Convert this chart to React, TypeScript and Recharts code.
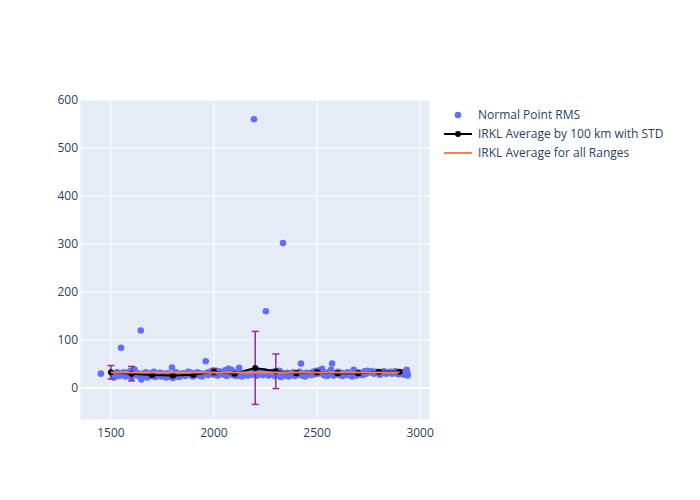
import React from "react";
import {
  ComposedChart,
  Scatter,
  Line,
  XAxis,
  YAxis,
  CartesianGrid,
  ErrorBar,
  ReferenceLine,
} from "recharts";

// [range km, rms]
const normalPoints: [number, number][] = [
  [1451, 30], [1508, 27], [1515, 22], [1522, 30], [1530, 33], [1538, 25], [1545, 31], [1549, 84],
  [1556, 28], [1562, 33], [1570, 24], [1578, 30], [1585, 26], [1592, 35], [1600, 22], [1607, 29],
  [1615, 38], [1622, 27], [1630, 31], [1638, 24], [1645, 120], [1648, 18],
  [1655, 30], [1662, 26], [1670, 33], [1678, 22], [1685, 28], [1693, 31], [1700, 25], [1708, 34],
  [1715, 23], [1722, 29], [1730, 27], [1738, 32], [1745, 24],
  [1752, 30], [1760, 26], [1768, 22], [1775, 31], [1783, 27], [1790, 24], [1796, 43], [1800, 21],
  [1808, 28], [1815, 33], [1822, 25], [1830, 23], [1838, 30], [1845, 27],
  [1852, 31], [1860, 25], [1868, 29], [1875, 34], [1882, 27], [1890, 32], [1898, 24], [1905, 30],
  [1912, 28], [1920, 33], [1928, 26], [1935, 31], [1942, 24], [1950, 29], [1960, 56], [1965, 32],
  [1972, 27], [1980, 34], [1988, 30], [1995, 36], [2002, 28], [2010, 32], [2018, 26], [2025, 35],
  [2032, 30], [2040, 33], [2048, 28], [2055, 37], [2062, 25], [2070, 40], [2078, 31], [2085, 38],
  [2092, 27], [2100, 33], [2108, 25], [2115, 30], [2122, 42], [2128, 28], [2135, 24], [2142, 31],
  [2150, 27], [2158, 33], [2165, 26], [2172, 30], [2180, 35],
  [2188, 28], [2194, 560], [2200, 32], [2208, 26], [2215, 34], [2222, 29], [2230, 31], [2238, 27],
  [2245, 35], [2252, 160], [2258, 30], [2265, 26], [2272, 33],
  [2280, 29], [2288, 34], [2295, 25], [2302, 31], [2310, 27], [2318, 36], [2325, 23], [2335, 302],
  [2340, 30], [2348, 26], [2355, 32], [2362, 24],
  [2370, 30], [2378, 27], [2385, 33], [2392, 25], [2400, 31], [2408, 28], [2415, 34], [2422, 51],
  [2428, 26], [2435, 30], [2442, 24], [2450, 32], [2458, 28],
  [2465, 31], [2472, 27], [2480, 34], [2488, 29], [2495, 36], [2502, 30], [2510, 33], [2518, 38],
  [2525, 40], [2532, 27], [2540, 31], [2548, 25],
  [2555, 33], [2562, 28], [2568, 38], [2573, 51], [2580, 26], [2588, 31], [2595, 29], [2602, 34],
  [2610, 27], [2618, 32], [2625, 25], [2632, 30], [2640, 28],
  [2648, 33], [2655, 27], [2662, 31], [2670, 24], [2678, 38], [2685, 30], [2692, 26], [2700, 33],
  [2708, 29], [2715, 31], [2722, 27], [2730, 35], [2738, 30],
  [2745, 36], [2755, 33], [2765, 35], [2775, 30], [2785, 34], [2795, 31], [2805, 28], [2815, 33],
  [2825, 35], [2835, 30], [2845, 32],
  [2855, 34], [2865, 30], [2872, 33], [2880, 35], [2888, 31], [2895, 29], [2905, 33], [2915, 30],
  [2922, 28], [2930, 35], [2935, 38], [2938, 32], [2940, 26],
];

const binCenters = [1500, 1600, 1700, 1800, 1900, 2000, 2100, 2200, 2300, 2400, 2500, 2600, 2700, 2800, 2900];
const binMeans = [33, 30, 27, 26, 28, 34, 30, 42, 35, 31, 33, 31, 31, 34, 34];
const binStd = [14, 15, 4, 4, 4, 7, 4, 76, 36, 5, 5, 5, 4, 4, 4];

const overallMean = 32.5;
const overallRange = [1500, 2900];

const xTicks = [1500, 2000, 2500, 3000];
const yTicks = [0, 100, 200, 300, 400, 500, 600];

const scatterData = normalPoints.map(([km, rms]) => ({ km, rms }));
const avgData = binCenters.map((km, i) => ({ km, rms: binMeans[i], std: binStd[i] }));
const allData = overallRange.map((km) => ({ km, rms: overallMean }));

const textColor = "#2a3f5f";
const font = '"Open Sans", verdana, arial, sans-serif';

const ChartLegend = () => (
  <svg
    width={250}
    height={60}
    style={{ position: "absolute", left: 440, top: 105, fontFamily: font }}
  >
    <circle cx={18} cy={10} r={3.3} fill="#636EFA" />
    <text x={38} y={14} fontSize={12} fill={textColor}>Normal Point RMS</text>
    <line x1={4} y1={29} x2={32} y2={29} stroke="#000" strokeWidth={2} />
    <circle cx={18} cy={29} r={3} fill="#000" />
    <text x={38} y={33} fontSize={12} fill={textColor}>IRKL Average by 100 km with STD</text>
    <line x1={4} y1={48} x2={32} y2={48} stroke="#FF7F50" strokeWidth={2} />
    <text x={38} y={52} fontSize={12} fill={textColor}>IRKL Average for all Ranges</text>
  </svg>
);

export default function App() {
  return (
    <div style={{ position: "absolute", left: 0, top: 0, width: 700, height: 500, background: "#fff", fontFamily: font }}>
      <ComposedChart width={700} height={500} margin={{ top: 100, right: 270, bottom: 50, left: 0 }}>
        <CartesianGrid stroke="#fff" strokeWidth={1} fill="#E5ECF6" fillOpacity={1} />
        <XAxis
          type="number"
          dataKey="km"
          domain={[1350, 3048]}
          ticks={xTicks}
          allowDataOverflow
          axisLine={false}
          tickLine={false}
          tickSize={0}
          tickMargin={8}
          height={30}
          tick={{ fill: textColor, fontSize: 12 }}
        />
        <YAxis
          type="number"
          dataKey="rms"
          domain={[-66.5, 600]}
          ticks={yTicks}
          allowDataOverflow
          axisLine={false}
          tickLine={false}
          tickSize={0}
          tickMargin={2}
          width={80}
          tick={{ fill: textColor, fontSize: 12 }}
        />
        <ReferenceLine y={0} stroke="#fff" strokeWidth={2} />
        <Scatter
          name="Normal Point RMS"
          data={scatterData}
          dataKey="rms"
          fill="#636EFA"
          zIndex={100}
          isAnimationActive={false}
          shape={(p: any) => <circle cx={p.cx} cy={p.cy} r={3.3} fill="#636EFA" />}
        />
        <Line
          name="IRKL Average by 100 km with STD"
          data={avgData}
          dataKey="rms"
          stroke="#000"
          strokeWidth={2}
          zIndex={700}
          dot={{ r: 3, fill: "#000", stroke: "#000", strokeWidth: 0 }}
          isAnimationActive={false}
        >
          <ErrorBar dataKey="std" direction="y" stroke="#962D96" strokeWidth={1.5} width={3.5} />
        </Line>
        <Line
          name="IRKL Average for all Ranges"
          data={allData}
          dataKey="rms"
          stroke="#FF7F50"
          strokeWidth={2}
          zIndex={800}
          dot={false}
          isAnimationActive={false}
        />
      </ComposedChart>
      <ChartLegend />
    </div>
  );
}
